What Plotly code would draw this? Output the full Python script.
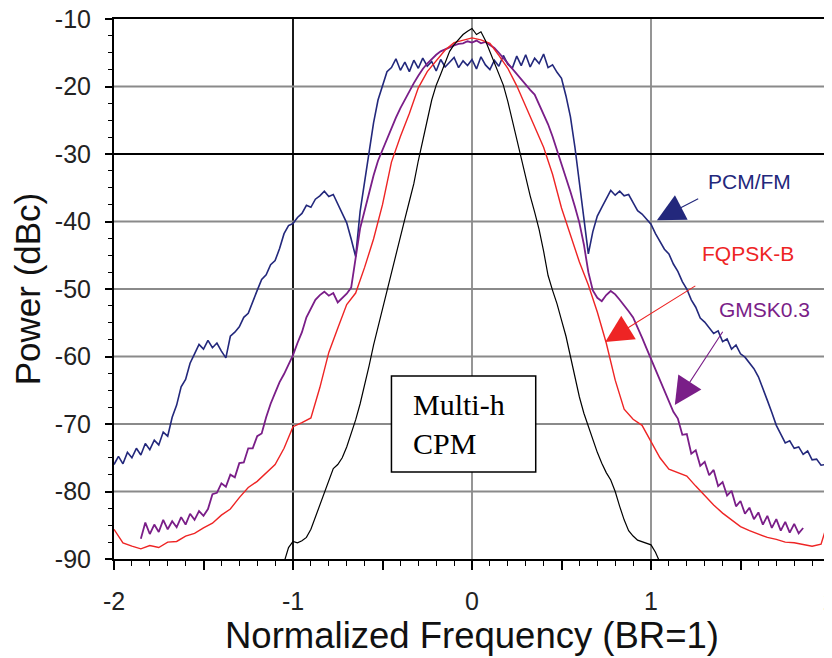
import numpy as np
import plotly.graph_objects as go

# ---------------- data ----------------
pcm_x = np.round(np.linspace(-2.0, 2.0, 161), 3)
pcm_y = [
    -76.0, -74.8, -75.9, -74.2, -75.0, -73.6, -74.6, -72.9, -73.8, -72.4,
    -73.1, -71.2, -71.8, -69.0, -67.2, -64.5, -63.4, -61.0, -59.6, -58.2,
    -58.9, -57.6, -58.7, -58.0, -59.2, -60.2, -57.0, -56.4, -55.6, -54.2,
    -53.6, -51.8, -50.2, -48.6, -47.9, -46.4, -45.8, -44.0, -41.8, -40.6,
    -40.3, -39.4, -38.8, -37.6, -37.9, -36.7, -36.2, -35.5, -36.3, -36.0,
    -37.4, -38.6, -40.2, -42.6, -45.2, -38.5, -34.0, -29.5, -25.4, -22.0,
    -19.8, -17.8, -17.2, -15.9, -17.6, -16.4, -17.8, -16.1, -17.3, -15.8,
    -17.0, -16.3, -17.7, -16.0, -17.1, -16.4, -15.7, -17.2, -16.2, -16.9,
    -16.0, -17.4, -15.6, -16.8, -17.5, -16.1, -17.0, -15.4, -16.7, -17.3,
    -15.5, -16.9, -15.3, -17.1, -15.8, -16.6, -15.2, -17.2, -16.8, -17.9,
    -18.8, -21.4, -24.5, -29.0, -34.3, -39.8, -44.8, -41.5, -39.2, -37.9,
    -36.6, -35.4, -36.1, -35.5, -36.2, -36.0, -37.2, -38.4, -38.9, -39.6,
    -40.4, -41.8, -42.9, -44.1, -44.8, -46.3, -47.4, -48.9, -50.0, -51.6,
    -52.7, -54.3, -54.9, -55.8, -56.6, -56.2, -57.8, -57.4, -58.9, -58.3,
    -59.6, -60.1, -60.9, -61.8, -63.0, -64.9, -66.5, -68.3, -70.2, -71.5,
    -72.8, -72.5, -73.6, -73.4, -74.5, -74.0, -75.3, -75.2, -76.1, -76.0,
    -76.8,
]

fq_x = np.round(np.linspace(-2.0, 2.0, 81), 3)
fq_y = [
    -85.6, -87.6, -88.1, -88.5, -88.0, -88.3, -87.5, -87.4, -86.6, -86.2,
    -85.4, -84.7, -83.5, -82.6, -80.9, -79.4, -78.5, -77.3, -76.0, -73.6,
    -70.4, -69.8, -69.1, -64.6, -59.4, -55.8, -52.3, -50.6, -46.8, -42.6,
    -37.5, -31.2, -27.4, -24.0, -20.2, -17.8, -16.2, -14.6, -13.5, -13.2,
    -12.8, -13.1, -13.6, -15.4, -17.3, -19.9, -23.0, -26.0, -29.0, -33.0,
    -38.0, -42.0, -46.0, -49.4, -53.4, -58.0, -63.5, -67.8, -69.3, -70.2,
    -72.5, -75.0, -76.7, -77.2, -77.7, -79.2, -80.6, -82.0, -83.2, -84.2,
    -85.2, -85.8, -86.3, -86.8, -87.1, -87.5, -87.6, -87.9, -88.1, -87.8,
    -83.5,
]

gm_x = np.round(np.linspace(-1.85, 1.85, 149), 3)
gm_y = [
    -87.0, -84.6, -86.3, -84.9, -86.0, -84.2, -85.6, -84.4, -85.3, -83.8,
    -84.9, -83.3, -84.2, -82.9, -83.6, -82.6, -80.4, -80.2, -78.8, -79.3,
    -77.5, -77.9, -75.8, -75.7, -73.6, -73.6, -71.8, -71.4, -69.0, -67.0,
    -65.4, -63.8, -62.6, -61.2, -59.8, -58.0, -56.4, -54.2, -52.8, -51.6,
    -50.9, -50.4, -51.0, -50.6, -52.0, -51.4, -50.7, -49.8, -45.6, -41.0,
    -38.4, -35.6, -33.2, -31.0, -29.4, -27.6, -26.0, -24.6, -23.2, -21.9,
    -20.6, -19.5, -18.4, -17.4, -16.6, -15.9, -15.3, -14.8, -14.5, -14.1,
    -13.9, -13.7, -13.6, -13.3, -13.5, -13.2, -13.6, -13.4, -13.9, -14.3,
    -15.0, -15.8, -16.6, -17.4, -18.2, -19.0, -19.8, -20.5, -21.2, -22.6,
    -24.0, -25.6, -27.4, -29.4, -31.6, -33.6, -35.6, -37.8, -40.2, -43.4,
    -47.5, -50.2, -51.3, -51.8, -50.9, -50.3, -50.8, -51.6, -52.4, -53.3,
    -54.2, -55.6, -57.2, -58.8, -60.4, -62.0, -63.6, -65.2, -66.6, -68.2,
    -69.2, -71.6, -71.5, -74.4, -73.9, -76.2, -75.6, -77.6, -76.8, -79.2,
    -78.6, -80.6, -79.9, -82.2, -81.4, -83.3, -82.4, -84.1, -83.1, -84.9,
    -83.6, -85.4, -84.1, -85.8, -84.5, -86.1, -84.8, -86.2, -85.4,
]

cpm_x = np.round(np.linspace(-1.05, 1.05, 85), 3)
cpm_y = [
    -90.5, -88.3, -87.4, -87.6, -87.3, -86.8, -85.6, -83.8, -82.0, -80.3,
    -78.4, -76.6, -76.0, -75.0, -73.4, -71.4, -69.4, -67.0, -64.4, -61.4,
    -58.3, -55.6, -53.0, -50.2, -47.4, -44.6, -42.0, -39.6, -37.0, -34.4,
    -31.0, -28.2, -25.0, -22.0, -19.8, -18.2, -16.6, -14.8, -13.8, -13.0,
    -12.3, -11.8, -11.4, -12.3, -11.9, -13.2, -14.8, -16.4, -18.0, -19.8,
    -22.2, -25.0, -28.2, -31.0, -33.6, -36.2, -38.6, -41.2, -44.4, -48.0,
    -50.2, -52.2, -54.6, -57.0, -60.0, -63.2, -66.0, -68.4, -70.4, -72.4,
    -74.2, -75.8, -77.2, -78.3, -80.0, -82.2, -84.2, -85.8, -86.6, -87.2,
    -87.4, -87.6, -87.9, -89.0, -90.5,
]

x_tick_vals = [-2, -1.5, -1, -0.5, 0, 0.5, 1, 1.5, 2]
x_tick_text = ["-2", "", "-1", "", "0", "", "1", "", "2"]
y_tick_vals = [-90, -80, -70, -60, -50, -40, -30, -20, -10]
y_tick_text = ["-90", "-80", "-70", "-60", "-50", "-40", "-30", "-20", "-10"]

assert len(pcm_y) == len(pcm_x), (len(pcm_y), len(pcm_x))
assert len(fq_y) == len(fq_x), (len(fq_y), len(fq_x))
assert len(gm_y) == len(gm_x), (len(gm_y), len(gm_x))
assert len(cpm_y) == len(cpm_x), (len(cpm_y), len(cpm_x))

NAVY = "#23287c"
RED = "#ee2424"
PURPLE = "#7a1e88"
BLACK = "#000000"

fig = go.Figure()
fig.add_trace(go.Scatter(x=pcm_x, y=pcm_y, mode="lines", name="PCM/FM",
                         line=dict(color=NAVY, width=1.6)))
fig.add_trace(go.Scatter(x=gm_x, y=gm_y, mode="lines", name="GMSK0.3",
                         line=dict(color=PURPLE, width=1.8)))
fig.add_trace(go.Scatter(x=fq_x, y=fq_y, mode="lines", name="FQPSK-B",
                         line=dict(color=RED, width=1.4)))
fig.add_trace(go.Scatter(x=cpm_x, y=cpm_y, mode="lines", name="Multi-h CPM",
                         line=dict(color=BLACK, width=1.2)))

shapes = []
# grid lines
for gx in [-1, 0, 1]:
    shapes.append(dict(type="line", xref="x", yref="y", x0=gx, x1=gx, y0=-90, y1=-10,
                       line=dict(color="#000000" if gx == -1 else "#8a8a8a", width=1.8),
                       layer="below"))
for gy in [-80, -70, -60, -50, -40, -30, -20]:
    shapes.append(dict(type="line", xref="x", yref="y", x0=-2, x1=2, y0=gy, y1=gy,
                       line=dict(color="#000000" if gy == -30 else "#8a8a8a", width=1.8),
                       layer="below"))
# Multi-h CPM box
shapes.append(dict(type="rect", xref="x", yref="y", x0=-0.45, x1=0.356, y0=-77.1, y1=-62.9,
                   fillcolor="white", line=dict(color="black", width=1.5), layer="above"))

annotations = [
    dict(x=-0.34, y=-70.0, xref="x", yref="y", text="Multi-h<br>CPM", showarrow=False,
         xanchor="left", yanchor="middle", align="left",
         font=dict(family="Liberation Serif", size=30, color="black")),
    dict(x=1.55, y=-34.0, xref="x", yref="y", text="PCM/FM", showarrow=False,
         font=dict(family="Liberation Sans", size=21, color=NAVY)),
    dict(x=1.54, y=-44.7, xref="x", yref="y", text="FQPSK-B", showarrow=False,
         font=dict(family="Liberation Sans", size=21, color=RED)),
    dict(x=1.635, y=-53.1, xref="x", yref="y", text="GMSK0.3", showarrow=False,
         font=dict(family="Liberation Sans", size=21, color=PURPLE)),
    dict(x=1.033, y=-39.8, ax=1.272, ay=-36.5, xref="x", yref="y", axref="x", ayref="y",
         text="", showarrow=True, arrowhead=2, arrowsize=5, arrowwidth=1.1, arrowcolor=NAVY),
    dict(x=0.744, y=-57.85, ax=1.256, ay=-49.4, xref="x", yref="y", axref="x", ayref="y",
         text="", showarrow=True, arrowhead=2, arrowsize=5, arrowwidth=1.1, arrowcolor=RED),
    dict(x=1.133, y=-67.2, ax=1.406, ay=-56.1, xref="x", yref="y", axref="x", ayref="y",
         text="", showarrow=True, arrowhead=2, arrowsize=5, arrowwidth=1.1, arrowcolor=PURPLE),
]

# page body adds an 8px offset, margins compensate for it
fig.update_layout(
    width=832, height=658,
    margin=dict(l=106, r=10, t=11, b=107),
    paper_bgcolor="white", plot_bgcolor="white",
    showlegend=False,
    shapes=shapes, annotations=annotations,
    font=dict(family="Liberation Sans", color="black"),
)
fig.update_xaxes(
    range=[-2, 2], showgrid=False, zeroline=False,
    showline=True, linecolor="black", linewidth=2, mirror=True,
    tickmode="array", tickvals=x_tick_vals, ticktext=x_tick_text,
    ticks="outside", ticklen=9, tickwidth=1.5, tickcolor="black",
    tickfont=dict(size=25, family="Liberation Sans", color="#222"),
    ticklabelstandoff=10, ticklabeloverflow="allow",
    minor=dict(dtick=0.1, ticks="outside", ticklen=5, tickwidth=1.2, tickcolor="black", showgrid=False),
    title=dict(text="Normalized Frequency (BR=1)", font=dict(size=36.5, family="Liberation Sans", color="#111"),
               standoff=2),
    automargin=False,
)
fig.update_yaxes(
    range=[-90, -10], showgrid=False, zeroline=False,
    showline=True, linecolor="black", linewidth=2, mirror=True,
    tickmode="array", tickvals=y_tick_vals, ticktext=y_tick_text,
    ticks="outside", ticklen=7, tickwidth=1.5, tickcolor="black",
    tickfont=dict(size=25, family="Liberation Sans", color="#222"),
    ticklabelstandoff=9, ticklabeloverflow="allow",
    minor=dict(dtick=2.5, ticks="outside", ticklen=4, tickwidth=1.2, tickcolor="black", showgrid=False),
    title=dict(text="Power (dBc)", font=dict(size=35, family="Liberation Sans", color="#111"),
               standoff=4),
    automargin=False,
)

fig.write_html("out.html")
